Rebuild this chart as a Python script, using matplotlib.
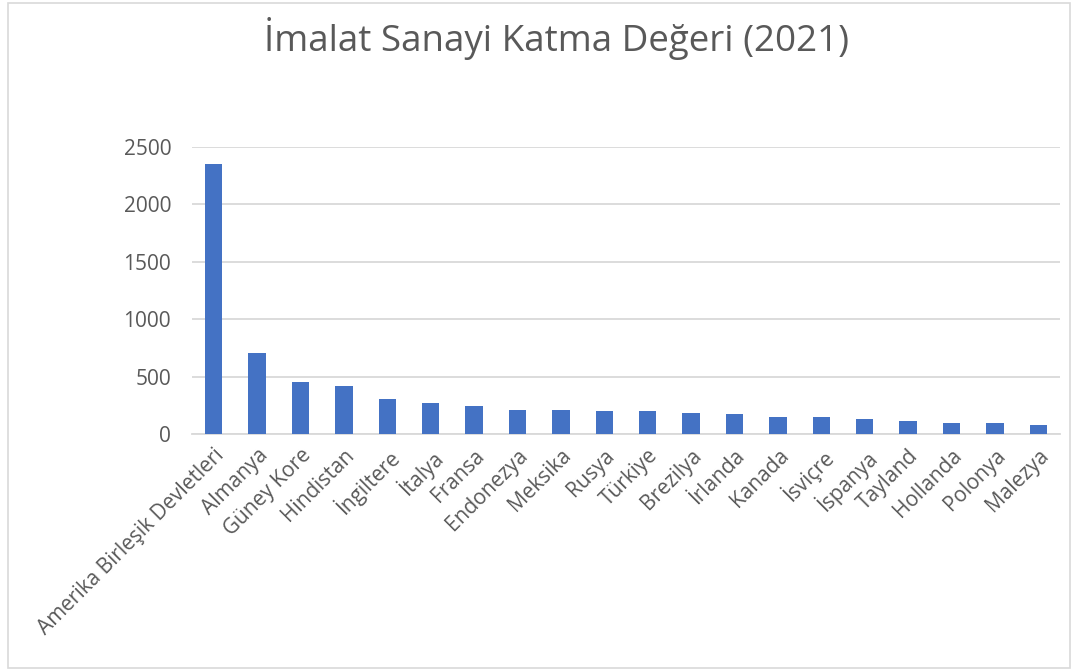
import matplotlib.pyplot as plt
import numpy as np

# Data
countries = ["Amerika Birleşik Devletleri", "Almanya", "Güney Kore", "Hindistan",
             "İngiltere", "İtalya", "Fransa", "Endonezya", "Meksika", "Rusya",
             "Türkiye", "Brezilya", "İrlanda", "Kanada", "İsviçre", "İspanya",
             "Tayland", "Hollanda", "Polonya", "Malezya"]
values = [2350, 702, 450, 418, 307, 270, 245, 209, 206, 197,
          197, 182, 174, 150, 147, 129, 112, 94, 94, 82]
yticks = [0, 500, 1000, 1500, 2000, 2500]

plt.rcParams['font.family'] = ['Open Sans', 'DejaVu Sans']

fig = plt.figure(figsize=(10.78, 6.71), dpi=100)
ax = fig.add_axes([192 / 1078, 1 - 434 / 671, (1060 - 192) / 1078, (434 - 147) / 671])

x = np.arange(len(countries))
ax.bar(x, values, width=0.4, color="#4472C4", zorder=3)

ax.set_xlim(-0.5, len(countries) - 0.5)
ax.set_ylim(0, 2500)
ax.set_yticks(yticks)
ax.set_yticklabels([str(t) for t in yticks], fontsize=15, color="#595959")
ax.set_xticks(x)
ax.set_xticklabels(countries, rotation=45, ha="right", rotation_mode="anchor",
                   fontsize=15, color="#595959")
ax.tick_params(axis="y", length=0, pad=15)
ax.tick_params(axis="x", length=0, pad=8)

ax.grid(axis="y", color="#d9d9d9", linewidth=1.3, zorder=0)
for side in ["top", "right", "left"]:
    ax.spines[side].set_visible(False)
ax.spines["bottom"].set_color("#d9d9d9")
ax.spines["bottom"].set_linewidth(1.3)

fig.text(556 / 1078, 1 - 38 / 671, "İmalat Sanayi Katma Değeri (2021)", ha="center", va="center",
         fontsize=26.5, color="#595959")

# light border around the chart area
border = plt.Rectangle((8 / 1078, 3 / 671), 1062 / 1078, 665 / 671, transform=fig.transFigure,
                       fill=False, edgecolor="#d9d9d9", linewidth=1.2)
fig.patches.append(border)

fig.savefig("out.png", dpi=100)
